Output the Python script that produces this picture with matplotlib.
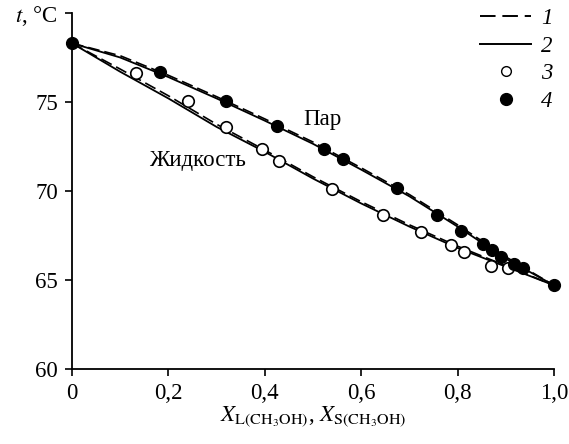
import matplotlib

matplotlib.use("Agg")

import matplotlib.pyplot as plt
from matplotlib.lines import Line2D

# composition grid for the model curves
x_model = [0.0, 0.1, 0.2, 0.3, 0.4, 0.5, 0.6, 0.7, 0.8, 0.9, 1.0]

# model 1 (dashed) and model 2 (solid)
t_liquid_1 = [78.3, 76.85, 75.35, 73.75, 72.3, 70.8, 69.4, 68.1, 66.9, 65.8, 64.7]
t_vapor_1 = [78.3, 77.6, 76.5, 75.3, 74.05, 72.75, 71.3, 69.8, 68.1, 66.3, 64.7]
t_liquid_2 = [78.3, 76.7, 75.2, 73.6, 72.2, 70.7, 69.3, 68.0, 66.8, 65.75, 64.7]
t_vapor_2 = [78.3, 77.5, 76.4, 75.2, 73.95, 72.65, 71.2, 69.7, 68.0, 66.2, 64.7]

# experimental points: 3 - liquid, 4 - vapour
x_liquid_exp = [0.133, 0.240, 0.319, 0.395, 0.429, 0.539, 0.646, 0.725, 0.786, 0.814, 0.869, 0.905]
t_liquid_exp = [76.65, 75.07, 73.6, 72.34, 71.7, 70.1, 68.65, 67.68, 66.97, 66.59, 65.8, 65.66]
x_vapor_exp = [0.0, 0.183, 0.319, 0.425, 0.523, 0.563, 0.674, 0.757, 0.808, 0.853, 0.872, 0.891, 0.916, 0.935, 1.0]
t_vapor_exp = [78.3, 76.7, 75.06, 73.65, 72.36, 71.8, 70.15, 68.65, 67.77, 67.02, 66.69, 66.31, 65.9, 65.66, 64.7]

x_ticks = [0.0, 0.2, 0.4, 0.6, 0.8, 1.0]
x_tick_labels = ["0", "0,2", "0,4", "0,6", "0,8", "1,0"]
y_ticks = [60, 65, 70, 75, 80]
y_tick_labels = ["60", "65", "70", "75", "$t$, °C"]

plt.rcParams["font.family"] = ["Liberation Serif", "DejaVu Serif"]
plt.rcParams["mathtext.fontset"] = "stix"

FS = 16.5
DASH = (0, (7, 3))

fig = plt.figure(figsize=(5.69, 4.44), dpi=100)
ax = fig.add_axes((72 / 569, 1 - 369 / 444, 482 / 569, 356 / 444))

ax.plot(x_model, t_liquid_1, color="black", lw=1.2, ls=DASH)
ax.plot(x_model, t_vapor_1, color="black", lw=1.2, ls=DASH)
ax.plot(x_model, t_liquid_2, color="black", lw=1.3)
ax.plot(x_model, t_vapor_2, color="black", lw=1.3)

ax.plot(x_liquid_exp, t_liquid_exp, "o", ms=8.3, mfc="white", mec="black", mew=1.2, ls="none", zorder=5)
ax.plot(x_vapor_exp, t_vapor_exp, "o", ms=8.5, mfc="black", mec="black", ls="none", zorder=5, clip_on=False)

ax.set_xlim(0, 1.0)
ax.set_ylim(60, 80)
ax.set_xticks(x_ticks)
ax.set_xticklabels(x_tick_labels)
ax.set_yticks(y_ticks)
ax.set_yticklabels(y_tick_labels)
ax.tick_params(direction="out", length=5, width=1.2, labelsize=FS, pad=5)

for side in ("top", "right"):
    ax.spines[side].set_visible(False)
for side in ("left", "bottom"):
    ax.spines[side].set_linewidth(1.3)

ax.set_xlabel(r"$X_{\mathrm{L(CH_3OH)}}$, $X_{\mathrm{S(CH_3OH)}}$", fontsize=FS, labelpad=0)

ax.text(0.52, 74.0, "Пар", fontsize=FS, ha="center", va="center")
ax.text(0.26, 71.7, "Жидкость", fontsize=FS, ha="center", va="center")

handles = [
    Line2D([], [], color="black", lw=1.4, ls=(0, (8, 3.5))),
    Line2D([], [], color="black", lw=1.4),
    Line2D([], [], marker="o", ms=7, mfc="white", mec="black", ls="none"),
    Line2D([], [], marker="o", ms=8.5, mfc="black", mec="black", ls="none"),
]
ax.legend(
    handles,
    ["1", "2", "3", "4"],
    loc="upper right",
    bbox_to_anchor=(1.04, 1.072),
    frameon=False,
    handlelength=2.2,
    handletextpad=0.45,
    labelspacing=0.29,
    prop={"style": "italic", "size": FS},
)

fig.savefig("out.png", dpi=100, facecolor="white")
